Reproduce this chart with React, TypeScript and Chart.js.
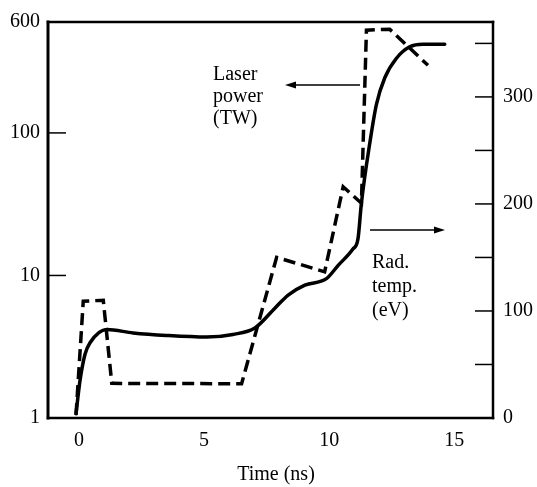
import React, { useEffect, useRef } from 'react';
import { Chart, registerables } from 'chart.js';

Chart.register(...registerables);

// Laser power (TW), left log axis – dashed
const timePower = [-0.12, 0.17, 0.97, 1.31, 6.5, 7.9, 9.82, 10.56, 11.29, 11.49, 12.42, 13.95];
const laserPower = [1.05, 6.6, 6.7, 1.75, 1.74, 13.4, 10.6, 41.9, 32.1, 526, 534, 298];

// Radiation temperature (eV), right linear axis – solid
const timeTemp = [-0.12, 0.04, 0.24, 0.44, 1.11, 2.16, 3.5, 5.1, 6.15, 7.03, 7.83, 8.36, 9.03, 9.89, 10.36, 10.95, 11.15, 11.29, 11.62, 11.89, 12.22, 12.69, 13.22, 13.75, 14.62];
const radTemp = [4, 35, 59.6, 70.3, 82.7, 79.5, 77.1, 75.6, 78.1, 84.1, 102.6, 114.9, 124.1, 130.2, 142.6, 157.9, 167.1, 200.9, 256.2, 293.1, 317.7, 336.1, 346.8, 349.3, 349.3];

const timeTicks = [0, 5, 10, 15];
const powerTicks = [1, 10, 100, 600];
const tempTicks = [0, 50, 100, 150, 200, 250, 300, 350];
const tempLabelled = [0, 100, 200, 300];

const FONT_FAMILY = '"Liberation Serif", "Times New Roman", serif';
const FONT_SIZE = 20;

const decorPlugin = {
  id: 'decor',
  afterDraw(chart: any) {
    const { ctx, chartArea: a, scales } = chart;
    const yL = scales.yL;
    const yR = scales.yR;
    ctx.save();
    ctx.strokeStyle = '#000';
    ctx.fillStyle = '#000';

    const seg = (x1: number, y1: number, x2: number, y2: number) => {
      ctx.beginPath();
      ctx.moveTo(x1, y1);
      ctx.lineTo(x2, y2);
      ctx.stroke();
    };

    // inward tick marks
    ctx.lineWidth = 1.5;
    powerTicks.forEach((v) => {
      const y = yL.getPixelForValue(v);
      seg(a.left, y, a.left + 18, y);
    });
    tempTicks.forEach((v) => {
      const y = yR.getPixelForValue(v);
      seg(a.right - 18, y, a.right, y);
    });

    // frame
    ctx.lineCap = 'square';
    ctx.lineWidth = 2.5;
    seg(a.left, a.top, a.right, a.top);
    seg(a.right, a.top, a.right, a.bottom);
    seg(a.left, a.bottom, a.right, a.bottom);
    ctx.lineWidth = 3;
    seg(a.left, a.top, a.left, a.bottom);
    ctx.lineCap = 'butt';

    // arrows
    const arrow = (x1: number, y: number, x2: number) => {
      const dir = Math.sign(x2 - x1);
      ctx.lineWidth = 1.3;
      seg(x1, y, x2 - dir * 8, y);
      ctx.beginPath();
      ctx.moveTo(x2, y);
      ctx.lineTo(x2 - dir * 11, y - 3.5);
      ctx.lineTo(x2 - dir * 11, y + 3.5);
      ctx.closePath();
      ctx.fill();
    };
    arrow(360, 85, 285);
    arrow(370, 230, 445);

    // annotation text
    ctx.font = `${FONT_SIZE}px ${FONT_FAMILY}`;
    ctx.textBaseline = 'alphabetic';
    ctx.textAlign = 'left';
    ['Laser', 'power', '(TW)'].forEach((t, i) => ctx.fillText(t, 213, 80 + i * 22));
    ['Rad.', 'temp.', '(eV)'].forEach((t, i) => ctx.fillText(t, 372, 268 + i * 24));

    // x-axis title
    ctx.textAlign = 'center';
    ctx.fillText('Time (ns)', 276, 480);
    ctx.restore();
  },
};

export default function App() {
  const ref = useRef<HTMLCanvasElement | null>(null);

  useEffect(() => {
    document.body.style.margin = '0';
    if (!ref.current) return;
    const font = { family: FONT_FAMILY, size: FONT_SIZE };
    const chart = new Chart(ref.current, {
      type: 'line',
      data: {
        datasets: [
          {
            label: 'Laser power (TW)',
            data: timePower.map((t, i) => ({ x: t, y: laserPower[i] })),
            yAxisID: 'yL',
            borderColor: '#000',
            borderWidth: 3.5,
            borderDash: [12, 6],
            borderCapStyle: 'butt',
            borderJoinStyle: 'miter',
            pointRadius: 0,
            tension: 0,
            fill: false,
          },
          {
            label: 'Rad. temp. (eV)',
            data: timeTemp.map((t, i) => ({ x: t, y: radTemp[i] })),
            yAxisID: 'yR',
            borderColor: '#000',
            borderWidth: 3.5,
            borderJoinStyle: 'round',
            borderCapStyle: 'round',
            pointRadius: 0,
            cubicInterpolationMode: 'monotone',
            fill: false,
          },
        ],
      },
      options: {
        responsive: false,
        animation: false,
        layout: { padding: { top: 16, left: 0, right: 0, bottom: 0 } },
        plugins: { legend: { display: false }, tooltip: { enabled: false } },
        scales: {
          x: {
            type: 'linear',
            min: -1.24,
            max: 16.55,
            grid: { display: false, drawTicks: false },
            border: { display: false },
            afterBuildTicks: (s: any) => {
              s.ticks = timeTicks.map((value) => ({ value }));
            },
            afterFit: (s: any) => {
              s.height = 69;
            },
            ticks: {
              font,
              color: '#000',
              padding: 11,
              maxRotation: 0,
              autoSkip: false,
              callback: (v: any) => String(v),
            },
          },
          yL: {
            type: 'logarithmic',
            position: 'left',
            min: 1,
            max: 600,
            grid: { display: false, drawTicks: false },
            border: { display: false },
            afterBuildTicks: (s: any) => {
              s.ticks = powerTicks.map((value) => ({ value }));
            },
            afterFit: (s: any) => {
              s.width = 48;
            },
            ticks: {
              font,
              color: '#000',
              padding: 8,
              autoSkip: false,
              callback: (v: any) => String(v),
            },
          },
          yR: {
            type: 'linear',
            position: 'right',
            min: 0,
            max: 370,
            grid: { display: false, drawTicks: false },
            border: { display: false },
            afterBuildTicks: (s: any) => {
              s.ticks = tempTicks.map((value) => ({ value }));
            },
            afterFit: (s: any) => {
              s.width = 44;
            },
            ticks: {
              font,
              color: '#000',
              padding: 10,
              autoSkip: false,
              callback: (v: any) => (tempLabelled.includes(Number(v)) ? String(v) : ''),
            },
          },
        },
      },
      plugins: [decorPlugin],
    } as any);
    return () => chart.destroy();
  }, []);

  return (
    <div style={{ width: 537, height: 487 }}>
      <canvas ref={ref} width={537} height={487} style={{ display: 'block', width: 537, height: 487 }} />
    </div>
  );
}
